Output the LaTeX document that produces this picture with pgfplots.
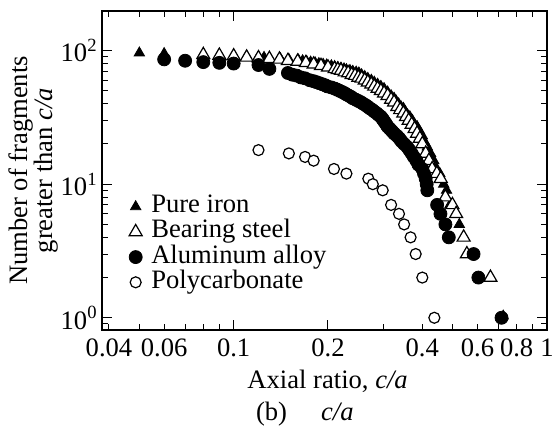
\documentclass[border=0pt]{standalone}
\usepackage{fontspec}
\setmainfont{Liberation Serif}
\usepackage{pgfplots}
\usepackage{pgfplotstable}
\pgfplotsset{compat=1.18}

% cumulative counts: x = c/a, y = number greater than c/a
\pgfplotstableread{
x y
0.05 96
0.06 95
0.08 94
0.09 93
0.1 92
0.11 91
0.12 90
0.125 89
0.13 88
0.141 87
0.15 86
0.161 85
0.166 84
0.171 83
0.176 82
0.182 81
0.187 80
0.193 79
0.198 78
0.205 77
0.21 76
0.215 75
0.22 74
0.225 73
0.229 72
0.235 71
0.24 70
0.246 69
0.251 68
0.256 66
0.262 64
0.268 62
0.275 60
0.281 58
0.288 56
0.295 54
0.302 52
0.31 49
0.318 46
0.325 44
0.33 42
0.336 40
0.342 38
0.348 37
0.353 35
0.359 33
0.365 32
0.372 30
0.378 28
0.385 27
0.392 25
0.40 23
0.405 21
0.41 20
0.415 19
0.425 17
0.435 15
0.445 13
0.455 12
0.468 10
0.478 9
0.49 7
0.525 5
0.725 1.03
}\pureiron

\pgfplotstableread{
x y
0.08 93
0.09 92
0.1 91
0.11 89
0.12 88
0.13 87
0.14 86
0.149 84
0.16 83
0.17 81
0.18 79
0.19 77
0.2 75
0.21 73
0.215 72
0.22 71
0.226 69
0.232 68
0.238 66
0.244 65
0.25 63
0.256 62
0.262 60
0.268 58
0.275 56
0.281 54
0.288 52
0.295 50
0.302 48
0.31 46
0.318 43
0.325 41
0.333 38
0.34 36
0.348 34
0.355 32
0.362 30
0.37 28
0.378 26
0.385 24
0.393 22
0.40 20
0.41 17
0.42 15
0.43 13
0.445 12
0.458 11
0.474 8
0.499 7
0.513 6
0.542 4
0.555 3
0.66 2
}\bearing

\pgfplotstableread{
x y
0.06 86
0.07 84
0.08 82
0.09 81
0.1 80
0.12 78
0.13 73
0.149 68
0.154 66
0.159 65
0.164 63
0.169 62
0.175 60
0.18 59
0.184 58
0.188 57
0.192 56
0.196 55
0.199 54
0.205 53
0.21 52
0.214 51
0.218 50
0.222 49
0.226 48
0.229 47
0.233 46
0.237 45
0.24 44
0.245 43
0.25 42
0.255 41
0.259 40
0.264 39
0.268 38
0.272 37
0.277 36
0.281 35
0.286 34
0.29 33
0.295 32
0.298 31
0.301 30
0.304 29
0.307 28
0.31 27
0.315 26
0.32 25
0.325 24
0.332 23
0.338 22
0.343 21
0.35 20
0.358 19
0.364 18
0.37 17
0.376 16
0.383 15
0.389 14
0.4 13
0.405 12
0.41 11
0.413 10
0.415 9
0.446 7
0.457 6
0.474 5
0.486 4
0.583 3
0.604 2
0.716 1
}\aluminum

\pgfplotstableread{
x y
0.12 18
0.15 17
0.169 16
0.18 15
0.209 13
0.229 12
0.269 11
0.278 10
0.299 9
0.318 7
0.337 6
0.35 5
0.367 4
0.381 3
0.40 2
0.437 1
}\polycarb

\begin{document}
\fontsize{13.3bp}{13.3bp}\selectfont
\begin{tikzpicture}
\begin{axis}[
  at={(0,0)}, anchor=south west,
  scale only axis, width=222.5bp, height=159.5bp,
  xmode=log, ymode=log,
  xmin=0.038, xmax=1, ymin=0.81, ymax=198,
  axis line style={line width=0.6bp},
  tick style={line width=0.5bp, black},
  tick align=inside,
  major tick length=2.8bp, minor tick length=2.8bp,
  xtick={0.04,0.06,0.1,0.2,0.4,0.6,0.8,1},
  xticklabels={0.04,0.06,0.1,0.2,0.4,0.6,0.8,1},
  minor xtick={0.05,0.07,0.08,0.09,0.3,0.5,0.7,0.9},
  extra x ticks={0.1,0.2}, extra x tick labels={},
  extra x tick style={major tick length=5bp},
  ytick={1,10,100},
  yticklabels={10\textsuperscript{0},10\textsuperscript{1},10\textsuperscript{2}},
  minor ytick={0.9,2,3,4,5,6,7,8,9,20,30,40,50,60,70,80,90},
  extra y ticks={1,10,100}, extra y tick labels={},
  extra y tick style={major tick length=5bp},
  yticklabel style={inner sep=0pt, xshift=-2bp},
  xlabel={Axial ratio, \textit{c/a}},
  xlabel style={at={(rel axis cs:0.507,0)}, anchor=base, yshift=-29bp},
  legend cell align=left,
  legend style={at={(rel axis cs:0.042,0.268)}, anchor=west, draw=none, fill=none,
    inner sep=0pt, row sep=0pt,
    nodes={inner sep=0pt, text height=9.3bp, text depth=3.3bp}},
  legend image code/.code={\path (0bp,0bp) (14.5bp,0bp); \draw[#1] plot coordinates {(7bp,0bp)};},
]
\addplot[only marks, mark=triangle*, mark size=3bp, draw=black, fill=black] table[x=x,y=y] {\pureiron};
\addlegendentry{Pure iron}
\addplot[only marks, mark=triangle*, mark size=3.75bp, draw=black, fill=white, line width=0.6bp] table[x=x,y=y] {\bearing};
\addlegendentry{Bearing steel}
\addplot[only marks, mark=*, mark size=3.25bp, draw=black, fill=black] table[x=x,y=y] {\aluminum};
\addlegendentry{Aluminum alloy}
\addplot[only marks, mark=*, mark size=2.75bp, draw=black, fill=white, line width=0.6bp] table[x=x,y=y] {\polycarb};
\addlegendentry{Polycarbonate}
\end{axis}
\node[rotate=90, align=center, font=\fontsize{13.3bp}{12.5bp}\selectfont] at (-34bp,79.75bp)
  {Number of fragments\\greater than \textit{c/a}};
\node[anchor=base west] at (72.4bp,-45bp) {(b)\hspace{17bp}\textit{c/a}};
\pgfresetboundingbox
\path[use as bounding box] (-51bp,-49bp) rectangle (225.5bp,165bp);
\end{tikzpicture}
\end{document}
